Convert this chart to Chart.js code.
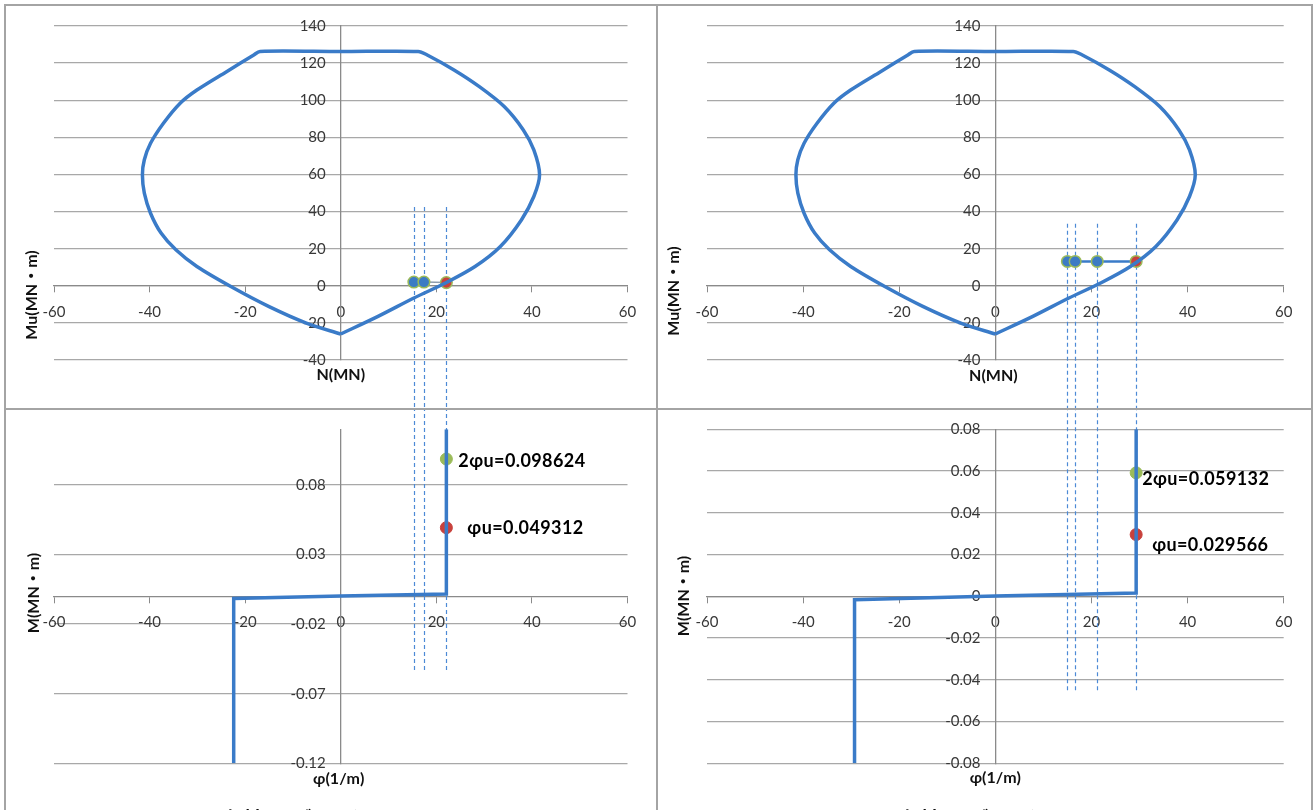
<!DOCTYPE html>
<html>
<head>
<meta charset="utf-8">
<script src="https://cdn.jsdelivr.net/npm/chart.js@4/dist/chart.umd.min.js"></script>
<style>
  html, body { margin: 0; padding: 0; background: #fff; width: 1315px; height: 810px; overflow: hidden; }
  #sheet { position: relative; width: 1315px; height: 810px; }
  #sheet canvas { position: absolute; }
  .rule { position: absolute; background: #a4a4a4; }
  .caption { position: absolute; font: bold 18px "Noto Sans CJK JP"; line-height: 20px; color: #111; white-space: nowrap; }
</style>
</head>
<body>
<div id="sheet">
  <canvas id="tl" width="656" height="408" style="left:0;top:0"></canvas>
  <canvas id="tr" width="657" height="408" style="left:658px;top:0"></canvas>
  <canvas id="bl" width="656" height="400" style="left:0;top:410px"></canvas>
  <canvas id="br" width="657" height="400" style="left:658px;top:410px"></canvas>
  <div class="rule" style="left:4px;top:4px;width:1309px;height:2px"></div>
  <div class="rule" style="left:4px;top:4px;width:2px;height:806px"></div>
  <div class="rule" style="left:1311px;top:4px;width:2px;height:806px"></div>
  <div class="rule" style="left:656px;top:4px;width:2px;height:806px"></div>
  <div class="rule" style="left:4px;top:408px;width:1309px;height:2px"></div>
  <div class="caption" style="left:225px;top:807px">部材1 のブロック図</div>
  <div class="caption" style="left:902px;top:807px">部材2 のブロック図</div>
</div>
<script>
// ---- N–Mu interaction curve (same section for both members) ----
const curveN = [0, -7.2, -15.1, -23.0, -30.1, -34.5, -37.6, -39.8, -41.1, -41.5, -41.1, -39.8, -37.1, -33.6, -30.1, -23.9, -18.2, -16.9, 0, 16.2, 18.0, 23.7, 29.0, 34.2, 38.2, 40.4, 41.6, 40.4, 37.8, 33.4, 28.1, 21.9, 15.3, 7.8, 0];
const curveM = [-26.0, -20.1, -11.1, -0.4, 10.4, 19.4, 28.4, 39.1, 49.9, 59.8, 67.9, 76.8, 87.6, 98.4, 105.5, 115.4, 124.4, 126.3, 126.2, 126.3, 124.5, 116.3, 107.3, 96.6, 84.0, 73.2, 59.8, 48.1, 35.5, 21.2, 10.4, 1.5, -6.6, -16.5, -26.0];

// ---- load states on the interaction diagram ----
const stateN1 = [15.3, 17.4, 22.1];
const stateM1 = [2.0, 2.0, 1.7];
const stateN2 = [15.0, 16.6, 21.2, 29.3];
const stateM2 = [13.1, 13.1, 13.1, 13.1];

// ---- guide positions (axial force of each state) ----
const guideN1 = [15.3, 17.4, 22.1];
const guideN2 = [15.0, 16.6, 21.2, 29.3];
const guideTopM1 = 42.4;
const guideTopM2 = 33.4;
const guideLowPhi1 = -0.053;
const guideLowPhi2 = -0.045;

// ---- moment–curvature branches ----
const bendX1 = [-22.4, -22.4, 0, 22.1, 22.1];
const bendY1 = [-0.12, -0.0015, 0.0003, 0.0017, 0.12];
const bendX2 = [-29.3, -29.3, 0, 29.3, 29.3];
const bendY2 = [-0.08, -0.0016, 0.0002, 0.0016, 0.08];

// ---- ultimate curvature marks ----
const phiX1 = [22.1, 22.1];
const phiY1 = [0.098624, 0.049312];
const phiX2 = [29.3, 29.3];
const phiY2 = [0.059132, 0.029566];
const phiPrefix = ['2φu=', 'φu='];

// ---- ticks ----
const xTicks = [-60, -40, -20, 0, 20, 40, 60];
const xTickLabels = ['-60', '-40', '-20', '0', '20', '40', '60'];
const muTicks = [-40, -20, 0, 20, 40, 60, 80, 100, 120, 140];
const muTickLabels = ['-40', '-20', '0', '20', '40', '60', '80', '100', '120', '140'];
const phiTicks1 = [-0.12, -0.07, -0.02, 0.03, 0.08];
const phiTickLabels1 = ['-0.12', '-0.07', '-0.02', '0.03', '0.08'];
const phiTicks2 = [-0.08, -0.06, -0.04, -0.02, 0, 0.02, 0.04, 0.06, 0.08];
const phiTickLabels2 = ['-0.08', '-0.06', '-0.04', '-0.02', '0', '0.02', '0.04', '0.06', '0.08'];

const BLUE = '#3a7bc8';
const DASH = '#4d8ad6';
const GRID = '#a8a8a8';
const AXIS = '#8a8a8a';
const TICK_COLOR = '#383838';
const TICK_FONT = { family: 'Lato', size: 15 };
const TITLE_FONT = 'bold 16px Lato, "Noto Sans CJK JP"';

const zip = (xs, ys) => xs.map((x, i) => ({ x, y: ys[i] }));

// dashed guides running from a value to the top or bottom edge of the canvas
const guidePlugin = {
  id: 'guides',
  beforeDatasetsDraw(chart, args, opts) {
    if (!opts.xs) return;
    const { ctx } = chart;
    const sx = chart.scales.x, sy = chart.scales.y;
    const yEnd = sy.getPixelForValue(opts.end);
    const yEdge = opts.edge === 'bottom' ? chart.height : 0;
    ctx.save();
    ctx.strokeStyle = DASH;
    ctx.lineWidth = 1.2;
    ctx.setLineDash([4, 3]);
    opts.xs.forEach(v => {
      const px = Math.round(sx.getPixelForValue(v)) + 0.5;
      ctx.beginPath();
      ctx.moveTo(px, yEnd);
      ctx.lineTo(px, yEdge);
      ctx.stroke();
    });
    ctx.restore();
  }
};

// value-axis labels set a little off the crossing axis line
const yLabelPlugin = {
  id: 'yLabels',
  beforeDatasetsDraw(chart, args, opts) {
    if (!opts.labels) return;
    const { ctx } = chart;
    const sy = chart.scales.y;
    const ax = chart.scales.x.getPixelForValue(0);
    ctx.save();
    ctx.fillStyle = TICK_COLOR;
    ctx.font = TICK_FONT.size + 'px ' + TICK_FONT.family;
    ctx.textAlign = 'right';
    ctx.textBaseline = 'middle';
    sy.ticks.forEach((t, i) => ctx.fillText(opts.labels[i], ax - opts.gap, sy.getPixelForValue(t.value)));
    ctx.restore();
  }
};

// axis titles placed beside the crossing axes
const titlePlugin = {
  id: 'axisTitles',
  afterDraw(chart, args, opts) {
    const { ctx, chartArea } = chart;
    const x0 = chart.scales.x.getPixelForValue(0);
    ctx.save();
    ctx.fillStyle = '#111';
    ctx.font = TITLE_FONT;
    ctx.textAlign = 'center';
    ctx.textBaseline = 'middle';
    ctx.fillText(opts.xText, x0 + (opts.xDx || 0), chartArea.bottom + opts.xDy);
    ctx.translate(opts.yX, opts.yY);
    ctx.rotate(-Math.PI / 2);
    ctx.fillText(opts.yText, 0, 0);
    ctx.restore();
  }
};

// value labels next to the curvature marks
const phiLabelPlugin = {
  id: 'phiLabels',
  afterDatasetsDraw(chart, args, opts) {
    if (!opts.dataset && opts.dataset !== 0) return;
    const { ctx } = chart;
    const meta = chart.getDatasetMeta(opts.dataset);
    const data = chart.data.datasets[opts.dataset].data;
    ctx.save();
    ctx.fillStyle = '#000';
    ctx.font = 'bold 18px Lato, "DejaVu Sans"';
    if ('letterSpacing' in ctx) ctx.letterSpacing = '0.4px';
    ctx.textAlign = 'left';
    ctx.textBaseline = 'middle';
    meta.data.forEach((el, i) => {
      const off = opts.offsets[i];
      ctx.fillText(phiPrefix[i] + data[i].y, el.x + off[0], el.y + off[1]);
    });
    ctx.restore();
  }
};

function scales(yMin, yMax, yTicks) {
  return {
    x: {
      type: 'linear', min: -60, max: 60, position: { y: 0 },
      afterBuildTicks: s => { s.ticks = xTicks.map(v => ({ value: v })); },
      ticks: { callback: (v, i) => xTickLabels[i], font: TICK_FONT, color: TICK_COLOR, padding: 11, maxRotation: 0, autoSkip: false },
      grid: { drawOnChartArea: false, drawTicks: true, tickLength: 6, color: AXIS, tickColor: AXIS },
      border: { display: true, color: AXIS, width: 1.3 }
    },
    y: {
      type: 'linear', min: yMin, max: yMax, position: { x: 0 },
      afterBuildTicks: s => { s.ticks = yTicks.map(v => ({ value: v })); },
      ticks: { display: false },
      grid: { color: GRID, lineWidth: 1.3, drawTicks: false },
      border: { display: true, color: AXIS, width: 1.3 }
    }
  };
}

function baseOptions(padding, yScale, plugins) {
  return {
    responsive: false,
    animation: false,
    devicePixelRatio: 1,
    layout: { padding },
    scales: yScale,
    plugins: Object.assign({ legend: { display: false }, tooltip: { enabled: false } }, plugins)
  };
}

function curveDataset() {
  return {
    data: zip(curveN, curveM), showLine: true, borderColor: BLUE, borderWidth: 3.5,
    pointRadius: 0, tension: 0.3, fill: false
  };
}

function stateDataset(ns, ms, lineColor, lineWidth) {
  const fills = ns.map((_, i) => i === ns.length - 1 ? '#c8413c' : '#3c7bc4');
  return {
    data: zip(ns, ms), showLine: true, borderColor: lineColor, borderWidth: lineWidth,
    pointRadius: 5.8, pointBackgroundColor: fills, pointBorderColor: '#9bbb59', pointBorderWidth: 1.5
  };
}

function bendDataset(xs, ys) {
  return { data: zip(xs, ys), showLine: true, borderColor: BLUE, borderWidth: 3.5, pointRadius: 0, tension: 0 };
}

function phiDataset(xs, ys) {
  return {
    data: zip(xs, ys), showLine: false, pointRadius: 6,
    pointBackgroundColor: ['#9bbb59', '#c8413c'], pointBorderColor: ['#9bbb59', '#c8413c'], pointBorderWidth: 1
  };
}

const plugs = [guidePlugin, yLabelPlugin, titlePlugin, phiLabelPlugin];

new Chart(document.getElementById('tl'), {
  type: 'scatter',
  data: { datasets: [curveDataset(), stateDataset(stateN1, stateM1, '#8d9cae', 1.5)] },
  options: baseOptions({ left: 54, right: 28.5, top: 26, bottom: 48 },
    scales(-40, 140, muTicks),
    { guides: { xs: guideN1, end: guideTopM1, edge: 'bottom' },
      yLabels: { labels: muTickLabels, gap: 15 },
      axisTitles: { xText: 'N(MN)', xDy: 15, yText: 'Mu(MN・m)', yX: 32, yY: 295 } }),
  plugins: plugs
});

new Chart(document.getElementById('tr'), {
  type: 'scatter',
  data: { datasets: [curveDataset(), stateDataset(stateN2, stateM2, BLUE, 2.5)] },
  options: baseOptions({ left: 49, right: 31.3, top: 26, bottom: 48 },
    scales(-40, 140, muTicks),
    { guides: { xs: guideN2, end: guideTopM2, edge: 'bottom' },
      yLabels: { labels: muTickLabels, gap: 15 },
      axisTitles: { xText: 'N(MN)', xDy: 16, xDx: -2, yText: 'Mu(MN・m)', yX: 16, yY: 291 } }),
  plugins: plugs
});

new Chart(document.getElementById('bl'), {
  type: 'scatter',
  data: { datasets: [bendDataset(bendX1, bendY1), phiDataset(phiX1, phiY1)] },
  options: baseOptions({ left: 54, right: 28.5, top: 19.3, bottom: 46.7 },
    scales(-0.12, 0.12, phiTicks1),
    { guides: { xs: guideN1, end: guideLowPhi1, edge: 'top' },
      yLabels: { labels: phiTickLabels1, gap: 15 },
      axisTitles: { xText: 'φ(1/m)', xDy: 16, xDx: -2, yText: 'M(MN・m)', yX: 34, yY: 183 },
      phiLabels: { dataset: 1, offsets: [[12, 2], [21, 1]] } }),
  plugins: plugs
});

new Chart(document.getElementById('br'), {
  type: 'scatter',
  data: { datasets: [bendDataset(bendX2, bendY2), phiDataset(phiX2, phiY2)] },
  options: baseOptions({ left: 49, right: 31.3, top: 19.3, bottom: 46.7 },
    scales(-0.08, 0.08, phiTicks2),
    { guides: { xs: guideN2, end: guideLowPhi2, edge: 'top' },
      yLabels: { labels: phiTickLabels2, gap: 15 },
      axisTitles: { xText: 'φ(1/m)', xDy: 15, yText: 'M(MN・m)', yX: 25.5, yY: 186 },
      phiLabels: { dataset: 1, offsets: [[6, 6.5], [16, 11]] } }),
  plugins: plugs
});
</script>
</body>
</html>
